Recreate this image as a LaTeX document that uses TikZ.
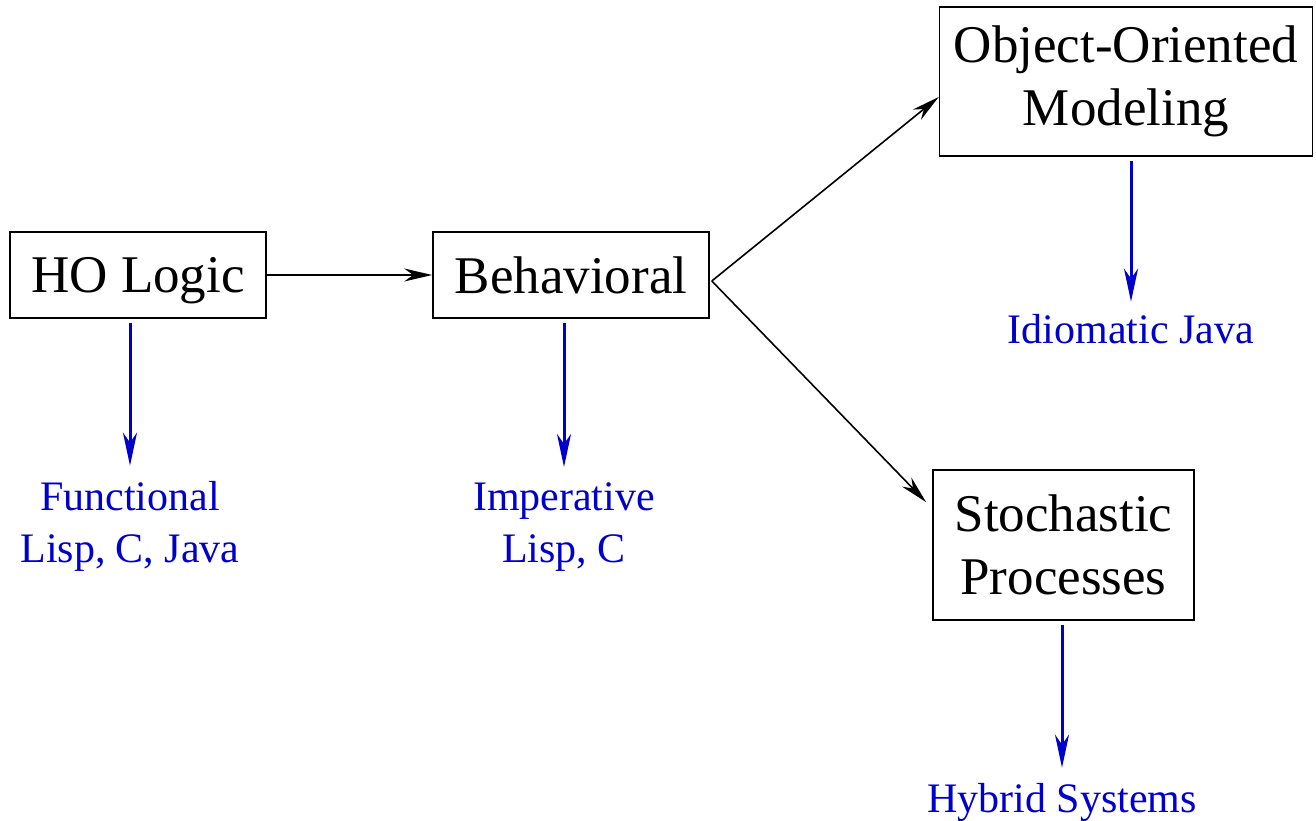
\documentclass[tikz,border=0pt]{standalone}
\usepackage{fontspec}
\setmainfont{Liberation Serif}
\usetikzlibrary{arrows.meta}
\definecolor{langblue}{RGB}{0,0,204}
\begin{document}
\begin{tikzpicture}[x=1pt,y=-1pt,
  box/.style={draw=black,line width=1.6pt,inner sep=0pt,align=center,
    font=\fontsize{53}{63.5}\selectfont},
  lang/.style={text=langblue,inner sep=0pt,align=center,
    font=\fontsize{42}{52}\selectfont},
  flow/.style={draw=black,line width=1.6pt,
    -{Stealth[length=28pt,width=13pt,inset=9pt]}},
  impl/.style={draw=langblue,line width=3pt,shorten <=4pt,shorten >=15pt,
    -{Stealth[length=33pt,width=14pt,inset=10pt]}}]
\useasboundingbox (0,0) rectangle (1316,821);

% paradigm boxes
\node[box,minimum width=256pt,minimum height=86pt,text depth=0pt] (ho) at (138,275) {HO Logic};
\node[box,minimum width=276pt,minimum height=86pt] (beh) at (571,275) {Behavioral};
\node[box,minimum width=373pt,minimum height=149pt] (oo) at (1126,81.5) {Object-Oriented\\Modeling};
\node[box,minimum width=261pt,minimum height=150pt] (st) at (1063.5,545) {Stochastic\\Processes};

% language labels (base = baseline of the last line)
\node[lang,anchor=base] (fun) at (130,562) {Functional\\Lisp, C, Java};
\node[lang,anchor=base] (imp) at (564,562) {Imperative\\Lisp, C};
\node[lang,anchor=base] (idi) at (1131,343) {Idiomatic Java};
\node[lang,anchor=base] (hyb) at (1062,812) {Hybrid Systems};

% refinement arrows
\draw[flow] (ho.east) -- (beh.west);
\draw[flow] ([xshift=2pt,yshift=-6pt]beh.east) -- ([yshift=-15.5pt]oo.west);
\draw[flow] ([xshift=2pt,yshift=-6pt]beh.east) -- ([xshift=-6pt,yshift=-33pt]st.north west);

% implementation arrows
\draw[impl] (ho.south -| fun.north) -- (fun.north);
\draw[impl] (beh.south -| imp.north) -- (imp.north);
\draw[impl,shorten >=12pt] (oo.south -| idi.north) -- (idi.north);
\draw[impl] (st.south -| hyb.north) -- (hyb.north);
\end{tikzpicture}
\end{document}
